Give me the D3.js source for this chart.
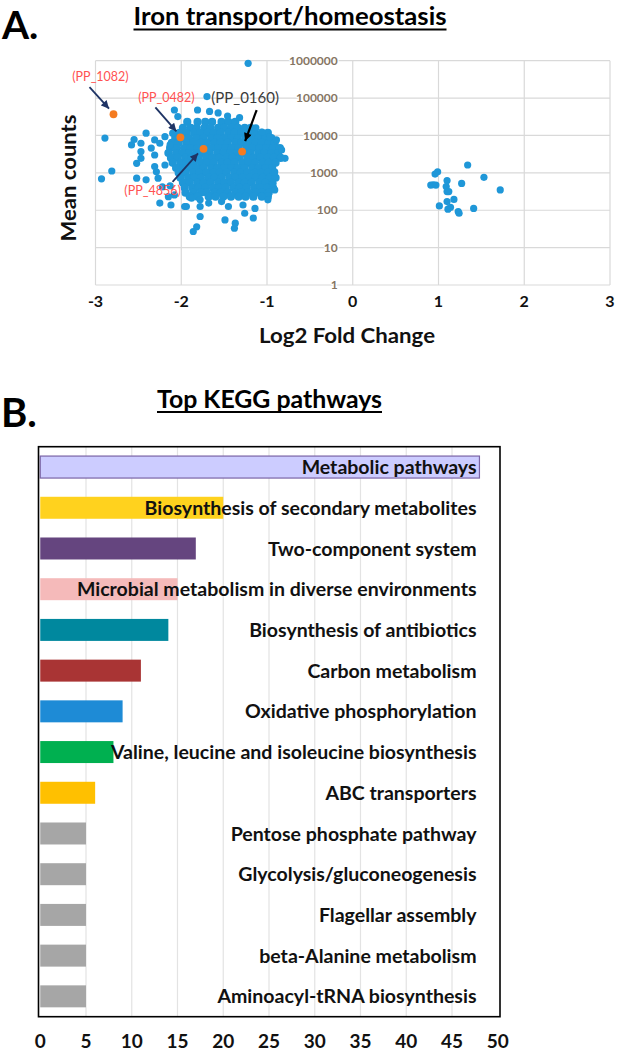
<!DOCTYPE html>
<html><head><meta charset="utf-8">
<script src="https://cdn.jsdelivr.net/npm/d3@7"></script>
<style>
body{margin:0;background:#fff}
svg{display:block}
text{font-family:Lato,'Liberation Sans',sans-serif}
</style>
</head><body>
<svg id="c" width="618" height="1050"></svg>
<script>
// ---------------- DATA ----------------
// Panel A: x ticks / y ticks
const xTicksA = [-3, -2, -1, 0, 1, 2, 3];
const yTicksA = [1, 10, 100, 1000, 10000, 100000, 1000000];

// Dense core of down-regulated genes, read row by row: [meanCount, [log2FC,...]]
const coreRows = [
  [23000, [-1.93,-1.81,-1.72,-1.64,-1.53,-1.45,-1.37]],
  [16000, [-1.98,-1.89,-1.82,-1.73,-1.66,-1.57,-1.50,-1.41,-1.34,-1.26,-1.19]],
  [11700, [-2.02,-1.94,-1.85,-1.78,-1.69,-1.62,-1.54,-1.45,-1.38,-1.30,-1.21,-1.14,-1.06,-0.99]],
  [8500,  [-2.07,-1.98,-1.91,-1.82,-1.74,-1.65,-1.58,-1.49,-1.42,-1.34,-1.25,-1.18,-1.10,-1.02,-0.95]],
  [6300,  [-2.11,-2.03,-1.94,-1.86,-1.77,-1.70,-1.61,-1.54,-1.46,-1.37,-1.30,-1.22,-1.13,-1.06,-0.98,-0.91]],
  [4600,  [-2.13,-2.05,-1.96,-1.89,-1.81,-1.72,-1.65,-1.57,-1.48,-1.41,-1.33,-1.24,-1.17,-1.09,-1.01,-0.93,-0.85]],
  [3400,  [-2.15,-2.06,-1.99,-1.91,-1.82,-1.75,-1.67,-1.58,-1.51,-1.43,-1.34,-1.27,-1.19,-1.10,-1.03,-0.95,-0.87]],
  [2500,  [-2.12,-2.04,-1.95,-1.88,-1.80,-1.71,-1.64,-1.56,-1.47,-1.40,-1.32,-1.23,-1.16,-1.08,-0.99,-0.92,-0.84]],
  [1850,  [-2.10,-2.01,-1.94,-1.86,-1.77,-1.70,-1.62,-1.53,-1.46,-1.38,-1.29,-1.22,-1.14,-1.05,-0.98,-0.90]],
  [1350,  [-2.06,-1.98,-1.89,-1.82,-1.74,-1.65,-1.58,-1.50,-1.41,-1.34,-1.26,-1.17,-1.10,-1.02,-0.94]],
  [1000,  [-2.03,-1.95,-1.86,-1.79,-1.71,-1.62,-1.55,-1.47,-1.38,-1.31,-1.23,-1.14,-1.07,-0.99,-0.92]],
  [740,   [-2.01,-1.92,-1.85,-1.77,-1.68,-1.61,-1.53,-1.44,-1.37,-1.29,-1.20,-1.13,-1.05,-0.97,-0.90]],
  [540,   [-1.98,-1.90,-1.81,-1.74,-1.66,-1.57,-1.50,-1.42,-1.33,-1.26,-1.18,-1.09,-1.02,-0.94]],
  [400,   [-1.96,-1.87,-1.80,-1.72,-1.63,-1.56,-1.48,-1.39,-1.32,-1.24,-1.15,-1.08,-1.00,-0.93]],
  [295,   [-1.95,-1.86,-1.77,-1.70,-1.61,-1.54,-1.46,-1.37,-1.30,-1.22,-1.13,-1.06,-0.98]],
  [230,   [-1.90,-1.81,-1.68,-1.60,-1.51,-1.42,-1.33,-1.25,-1.16,-1.06,-0.99]]
];

// Scattered individual genes: [log2FC, meanCount]
const sparsePoints = [
  [-1.22,850000],[-1.70,110000],[-2.08,48000],[-2.04,32000],[-1.81,48000],[-1.67,44000],
  [-1.57,40000],[-1.46,33000],[-1.32,30000],[-1.13,16000],[-1.06,12300],[-0.97,9100],
  [-0.89,7600],[-0.83,4100],[-0.79,2450],[-0.91,1070],[-0.93,520],[-0.91,350],[-0.99,190],
  [-2.89,8500],[-2.93,690],[-2.81,1120],[-2.58,5600],[-2.55,7800],[-2.47,6200],[-2.41,11500],
  [-2.35,4600],[-2.47,3700],[-2.31,7600],[-2.25,6200],[-2.19,9300],[-2.13,5600],[-2.10,11500],
  [-2.31,3000],[-2.52,1800],[-2.47,2450],[-2.31,1480],[-2.29,1070],[-2.27,720],[-2.19,1620],
  [-2.52,720],[-2.41,650],[-2.25,155],[-2.12,138],[-2.15,230],[-2.08,257],[-1.96,126],
  [-2.13,450],[-2.22,420],
  [-1.88,210],[-1.78,190],[-1.68,155],[-1.78,126],[-1.94,126],[-1.53,170],[-1.45,126],
  [-1.28,138],[-1.26,83],[-1.14,112],[-1.16,62],[-1.78,68],[-1.49,55],[-1.37,45],
  [-1.38,33],[-1.82,36],[-1.86,27],[-1.06,240],
  // up-regulated cluster
  [1.34,1620],[0.99,1070],[0.96,930],[1.53,760],[0.94,480],[0.91,470],[0.97,470],
  [1.10,620],[1.09,430],[1.27,520],[1.72,350],[1.10,315],[1.12,315],[1.18,195],
  [1.01,130],[1.10,170],[1.11,107],[1.14,120],[1.23,92],[1.24,83],[1.41,112]
];

// Highlighted iron transport/homeostasis genes
const geneIds   = ["PP_1082", "PP_0482", "PP_0160", "PP_4856"];
const geneLog2  = [-2.79, -2.01, -1.29, -1.74];
const geneMean  = [37000, 8900, 3700, 4400];

// Panel B
const pathways = [
  "Metabolic pathways",
  "Biosynthesis of secondary metabolites",
  "Two-component system",
  "Microbial metabolism in diverse environments",
  "Biosynthesis of antibiotics",
  "Carbon metabolism",
  "Oxidative phosphorylation",
  "Valine, leucine and isoleucine biosynthesis",
  "ABC transporters",
  "Pentose phosphate pathway",
  "Glycolysis/gluconeogenesis",
  "Flagellar assembly",
  "beta-Alanine metabolism",
  "Aminoacyl-tRNA biosynthesis"
];
const geneCounts = [48, 20, 17, 15, 14, 11, 9, 8, 6, 5, 5, 5, 5, 5];
const xTicksB = [0, 5, 10, 15, 20, 25, 30, 35, 40, 45, 50];

// ---------------- STYLE ----------------
const barColors = ["#ccccff","#ffd21e","#65457f","#f5baba","#00889e","#a93434",
  "#1e8bd6","#00b050","#ffc000","#a6a6a6","#a6a6a6","#a6a6a6","#a6a6a6","#a6a6a6"];
const dotBlue = "#1f97d8", dotOrange = "#f47b20";
const gridCol = "#d9d9d9";

const svg = d3.select("#c");

function fitText(sel, w){
  sel.attr("textLength", w).attr("lengthAdjust", "spacingAndGlyphs");
  return sel;
}

// ================= PANEL A =================
const xA = d3.scaleLinear().domain([-3, 3]).range([95.5, 610]);
const yA = d3.scaleLog().domain([1, 1000000]).range([285, 60.7]);

svg.append("text").attr("x", 2).attr("y", 38.5)
  .attr("font-size", 39).attr("font-weight", 700).text("A.");

const tA = svg.append("text").attr("x", 290).attr("y", 25).attr("text-anchor", "middle")
  .attr("font-size", 25).attr("font-weight", 700).text("Iron transport/homeostasis");
fitText(tA, 313);
svg.append("line").attr("x1", 133.5).attr("x2", 446.5).attr("y1", 29.5).attr("y2", 29.5)
  .attr("stroke", "#000").attr("stroke-width", 2);

const gA = svg.append("g");
gA.selectAll(".vg").data(xTicksA).join("line")
  .attr("x1", d => xA(d)).attr("x2", d => xA(d))
  .attr("y1", yA(1000000)).attr("y2", yA(1))
  .attr("stroke", gridCol).attr("stroke-width", 1.2);
gA.selectAll(".hg").data(yTicksA).join("line")
  .attr("x1", xA(-3)).attr("x2", xA(3))
  .attr("y1", d => yA(d)).attr("y2", d => yA(d))
  .attr("stroke", gridCol).attr("stroke-width", 1.2);

// y tick labels (drawn next to the x = 0 axis)
gA.selectAll(".yl").data(yTicksA).join("text")
  .attr("x", xA(0) - 15).attr("y", d => yA(d)).attr("dy", "0.35em")
  .attr("text-anchor", "end").attr("font-size", 12).attr("font-weight", 700)
  .attr("fill", "#857563")
  .attr("stroke", "#fff").attr("stroke-width", 2.5).attr("paint-order", "stroke")
  .text(d => String(d));

// x tick labels
gA.selectAll(".xl").data(xTicksA).join("text")
  .attr("x", d => xA(d)).attr("y", 306.5).attr("text-anchor", "middle")
  .attr("font-size", 16).attr("font-weight", 700).attr("fill", "#111")
  .text(d => String(d));

const xlab = svg.append("text").attr("x", 347).attr("y", 343).attr("text-anchor", "middle")
  .attr("font-size", 21).attr("font-weight", 700).attr("fill", "#111").text("Log2 Fold Change");
fitText(xlab, 176);
const ylab = svg.append("text").attr("transform", "translate(75.5,178) rotate(-90)")
  .attr("text-anchor", "middle").attr("font-size", 21).attr("font-weight", 700)
  .attr("fill", "#111").text("Mean counts");
fitText(ylab, 127);

// points: dense core rows (drawn slightly larger so the solid mass closes up) and scattered genes
const corePoints = coreRows.flatMap(([m, xs]) => xs.map(x => [x, m]));
gA.selectAll(".cpt").data(corePoints).join("circle")
  .attr("cx", d => xA(d[0])).attr("cy", d => yA(d[1])).attr("r", 4.1)
  .attr("fill", dotBlue);
gA.selectAll(".spt").data(sparsePoints).join("circle")
  .attr("cx", d => xA(d[0])).attr("cy", d => yA(d[1])).attr("r", 3.6)
  .attr("fill", dotBlue);

const genes = geneIds.map((id, i) => ({id, x: geneLog2[i], m: geneMean[i]}));
gA.selectAll(".hl").data(genes).join("circle")
  .attr("cx", d => xA(d.x)).attr("cy", d => yA(d.m)).attr("r", 3.9)
  .attr("fill", dotOrange);

// annotations (offsets in px from the highlighted point)
const annLayout = {
  "PP_1082": {lx: -13, ly: -37.5, ax1: -24, ay1: -27, ax2: -4.5, ay2: -5.5, tc: "#ff5252", ac: "#1f3465"},
  "PP_0482": {lx: -14, ly: -39.5, ax1: -25, ay1: -30, ax2: -4,   ay2: -6,   tc: "#ff5252", ac: "#1f3465"},
  "PP_0160": {lx: 3,   ly: -53.5, ax1: 14.5, ay1: -41.5, ax2: 3, ay2: -10.5, tc: "#3a3a3a", ac: "#000"},
  "PP_4856": {lx: -51, ly: 42,    ax1: -31, ay1: 33, ax2: -5.5, ay2: 4.5,  tc: "#ff5252", ac: "#1f3465"}
};
const defs = svg.append("defs");
[["navy", "#1f3465"], ["blk", "#000"]].forEach(([id, c]) => {
  defs.append("marker").attr("id", "ah-" + id).attr("viewBox", "0 0 10 10")
    .attr("refX", 10).attr("refY", 5).attr("markerWidth", 9).attr("markerHeight", 8)
    .attr("markerUnits", "userSpaceOnUse").attr("orient", "auto")
    .append("path").attr("d", "M0,0 L10,5 L0,10 z").attr("fill", c);
});
genes.forEach(g => {
  const L = annLayout[g.id];
  const px = xA(g.x), py = yA(g.m);
  svg.append("line")
    .attr("x1", px + L.ax1).attr("y1", py + L.ay1)
    .attr("x2", px + L.ax2).attr("y2", py + L.ay2)
    .attr("stroke", L.ac).attr("stroke-width", g.id === "PP_0160" ? 2.2 : 1.8)
    .attr("marker-end", L.ac === "#000" ? "url(#ah-blk)" : "url(#ah-navy)");
  svg.append("text").attr("x", px + L.lx).attr("y", py + L.ly).attr("dy", "0.35em")
    .attr("text-anchor", "middle").attr("font-size", g.id === "PP_0160" ? 15 : 12.5)
    .attr("fill", L.tc).text("(" + g.id + ")");
});

// ================= PANEL B =================
svg.append("text").attr("x", 1).attr("y", 426.5)
  .attr("font-size", 40).attr("font-weight", 700).text("B.");
const tB = svg.append("text").attr("x", 269.5).attr("y", 408).attr("text-anchor", "middle")
  .attr("font-size", 25).attr("font-weight", 700).text("Top KEGG pathways");
fitText(tB, 225);
svg.append("line").attr("x1", 157).attr("x2", 382).attr("y1", 412).attr("y2", 412)
  .attr("stroke", "#000").attr("stroke-width", 2);

const frame = {x0: 38.5, x1: 500, y0: 446.7, y1: 1016.7};
const xB = d3.scaleLinear().domain([0, 50]).range([40.25, 497.75]);
const yB = d3.scaleBand().domain(pathways).range([frame.y0, frame.y1])
  .paddingInner(0.46).paddingOuter(0.23);

const gB = svg.append("g");
gB.selectAll(".vgB").data(xTicksB.filter(d => d > 0 && d < 50)).join("line")
  .attr("x1", d => xB(d)).attr("x2", d => xB(d))
  .attr("y1", frame.y0).attr("y2", frame.y1)
  .attr("stroke", "#e3e3e3").attr("stroke-width", 1.2);

gB.selectAll(".bar").data(pathways).join("rect")
  .attr("x", xB(0)).attr("y", d => yB(d))
  .attr("width", (d, i) => xB(geneCounts[i]) - xB(0))
  .attr("height", yB.bandwidth())
  .attr("fill", (d, i) => barColors[i])
  .attr("stroke", (d, i) => i === 0 ? "#7a64a6" : "none")
  .attr("stroke-width", 1.2);

const labs = gB.selectAll(".lab").data(pathways).join("text")
  .attr("x", 476.5).attr("y", d => yB(d) + yB.bandwidth() / 2).attr("dy", "0.36em")
  .attr("text-anchor", "end").attr("font-size", 17).attr("font-weight", 700)
  .attr("fill", "#111").text(d => d);
// size so the longest label spans the same width as in the figure
let maxW = 0;
labs.each(function(){ maxW = Math.max(maxW, this.getComputedTextLength()); });
const fs = 17 * 400 / maxW;
labs.attr("font-size", fs);

svg.append("rect").attr("x", frame.x0).attr("y", frame.y0)
  .attr("width", frame.x1 - frame.x0).attr("height", frame.y1 - frame.y0)
  .attr("fill", "none").attr("stroke", "#000").attr("stroke-width", 1.6);

gB.selectAll(".xlB").data(xTicksB).join("text")
  .attr("x", d => xB(d)).attr("y", 1047.5).attr("text-anchor", "middle")
  .attr("font-size", 19).attr("font-weight", 700).attr("fill", "#111")
  .text(d => String(d));
</script>
</body></html>
